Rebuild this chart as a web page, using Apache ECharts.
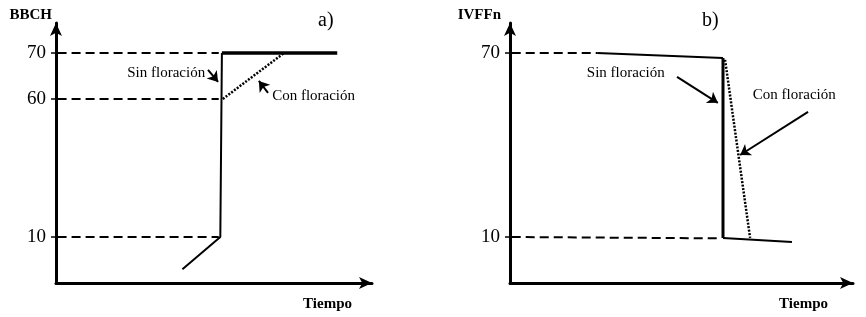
<!DOCTYPE html>
<html><head><meta charset="utf-8">
<script src="https://cdn.jsdelivr.net/npm/echarts@6/dist/echarts.min.js"></script>
<style>html,body{margin:0;padding:0;background:#fff}#c{width:866px;height:317px}</style>
</head><body><div id="c"></div>
<script>
const panelTitles = ['a)', 'b)'];
const yNames = ['BBCH', 'IVFFn'];
const xName = 'Tiempo';
const ticksA = [10, 60, 70];
const ticksB = [10, 70];
// the sketch is not drawn to scale: each stage value sits on an axis "level"
const stageValues = [0, 10, 60, 70];
const stageLevels = [0, 1, 4, 5];
const levelMax = 5.65;

// panel a: BBCH vs time (time in arbitrary units 0-100)
const sinFloracionA = [[40, 3], [52, 10], [52.5, 70]];
const sinFloracionTopA = [[52.5, 70], [89, 70]];
const conFloracionA = [[52.8, 60], [72.2, 70]];
const refStartA = 0.5, refEndA = 51.5;
// panel b: IVFFn vs time
const sinFloracionPlateauB = [[25.4, 70], [62.1, 68.9]];
const sinFloracionDropB = [[62.1, 68.9], [62.1, 9.8]];
const sinFloracionEndB = [[62.1, 9.8], [82.2, 8.9]];
const conFloracionB = [[62.7, 68.5], [70.0, 9.8]];
const ref70B = [[0.5, 70], [25.4, 70]];
const ref10B = [[0.5, 10], [61.5, 9.7]];

// annotations
const notesA = [{text: 'Sin floración', at: [47.2, 65.7], side: 'left'},
                {text: 'Con floración', at: [68.4, 60.6], side: 'right'}];
const arrowsA = [[[48.1, 66.3], [51.3, 63.7]], [[67.1, 61.3], [64.2, 63.9]]];
const notesB = [{text: 'Sin floración', at: [22.4, 65.7], side: 'right'},
                {text: 'Con floración', at: [70.8, 60.9], side: 'right'}];
const arrowsB = [[[48.7, 64.8], [60.6, 58.6]], [[86.9, 55.3], [67.1, 39.7]]];

const INK = '#000';
const SERIF = '"Liberation Serif", "DejaVu Serif", serif';

function toLevel(v) {
  for (let i = 1; i < stageValues.length; i++) {
    if (v <= stageValues[i] || i === stageValues.length - 1) {
      const v0 = stageValues[i - 1], v1 = stageValues[i];
      return stageLevels[i - 1] + (v - v0) / (v1 - v0) * (stageLevels[i] - stageLevels[i - 1]);
    }
  }
}
function levelLabel(l) {
  for (let i = 0; i < stageLevels.length; i++) if (Math.abs(stageLevels[i] - l) < 1e-6) return String(stageValues[i]);
  return '';
}
const pts = arr => arr.map(p => [p[0], toLevel(p[1])]);

function lineSeries(idx, data, width, type) {
  return {type: 'line', xAxisIndex: idx, yAxisIndex: idx, data: pts(data), symbol: 'none', showSymbol: false,
          silent: true, animation: false, z: 3,
          lineStyle: {color: INK, width: width, type: type || 'solid', cap: 'butt', opacity: 1}};
}
function arrowSeries(idx, arrows) {
  return {type: 'lines', coordinateSystem: 'cartesian2d', xAxisIndex: idx, yAxisIndex: idx,
          symbol: ['none', 'arrow'], symbolSize: 10, silent: true, animation: false, z: 4,
          lineStyle: {color: INK, width: 2, opacity: 1, curveness: 0},
          data: arrows.map(a => ({coords: pts(a)}))};
}
function noteSeries(idx, notes) {
  return {type: 'scatter', xAxisIndex: idx, yAxisIndex: idx, symbolSize: 0, silent: true, animation: false,
          itemStyle: {color: INK, opacity: 1},
          data: notes.map(n => ({value: [n.at[0], toLevel(n.at[1])],
            label: {show: true, position: n.side, distance: 0, formatter: n.text, opacity: 1,
                    fontFamily: SERIF, fontSize: 15, color: INK}}))};
}

const grids = [{left: 56, top: 23, width: 316, height: 260}, {left: 510, top: 23, width: 343, height: 260}];
const tickSets = [ticksA, ticksB];
const namePad = [[0, 4, 0, 0], [0, 9, 0, 0]];
const xNameGap = [-20, -25];

const option = {
  animation: false,
  backgroundColor: '#fff',
  title: panelTitles.map((t, i) => ({text: t, left: i === 0 ? 318 : 702, top: 11, padding: 0,
    textStyle: {fontFamily: SERIF, fontSize: 20, fontWeight: 'normal', color: INK}})),
  grid: grids,
  xAxis: grids.map((g, i) => ({
    type: 'value', gridIndex: i, min: 0, max: 100,
    name: xName, nameLocation: 'end', nameGap: xNameGap[i],
    nameTextStyle: {fontFamily: SERIF, fontWeight: 'bold', fontSize: 15, color: INK,
                    align: 'right', verticalAlign: 'top', padding: [14, 0, 0, 0]},
    axisLine: {show: true, symbol: ['none', 'arrow'], symbolSize: [9, 13], lineStyle: {color: INK, width: 3}},
    axisTick: {show: false}, axisLabel: {show: false}, splitLine: {show: false}
  })),
  yAxis: grids.map((g, i) => ({
    type: 'value', gridIndex: i, min: 0, max: levelMax,
    name: yNames[i], nameLocation: 'end', nameGap: 8,
    nameTextStyle: {fontFamily: SERIF, fontWeight: 'bold', fontSize: 15, color: INK,
                    align: 'right', verticalAlign: 'middle', padding: namePad[i]},
    axisLine: {show: true, symbol: ['none', 'arrow'], symbolSize: [9, 13], lineStyle: {color: INK, width: 3}},
    axisTick: {show: true, length: 5, customValues: tickSets[i].map(toLevel), lineStyle: {color: INK, width: 1.5}},
    axisLabel: {show: true, margin: 10, customValues: tickSets[i].map(toLevel), formatter: v => levelLabel(v),
                fontFamily: SERIF, fontSize: 19, color: INK},
    splitLine: {show: false}
  })),
  series: [
    ...ticksA.map(v => lineSeries(0, [[refStartA, v], [refEndA, v]], 2, [9, 5])),
    lineSeries(0, sinFloracionA, 2),
    lineSeries(0, sinFloracionTopA, 3.5),
    lineSeries(0, conFloracionA, 2.5, [2, 1.5]),
    arrowSeries(0, arrowsA),
    noteSeries(0, notesA),
    lineSeries(1, ref70B, 2, [9, 5]),
    lineSeries(1, ref10B, 2, [9, 5]),
    lineSeries(1, sinFloracionPlateauB, 2),
    lineSeries(1, sinFloracionDropB, 3),
    lineSeries(1, sinFloracionEndB, 2),
    lineSeries(1, conFloracionB, 2.5, [2, 1.5]),
    arrowSeries(1, arrowsB),
    noteSeries(1, notesB)
  ]
};
echarts.init(document.getElementById('c'), null, {renderer: 'canvas'}).setOption(option);
</script></body></html>
